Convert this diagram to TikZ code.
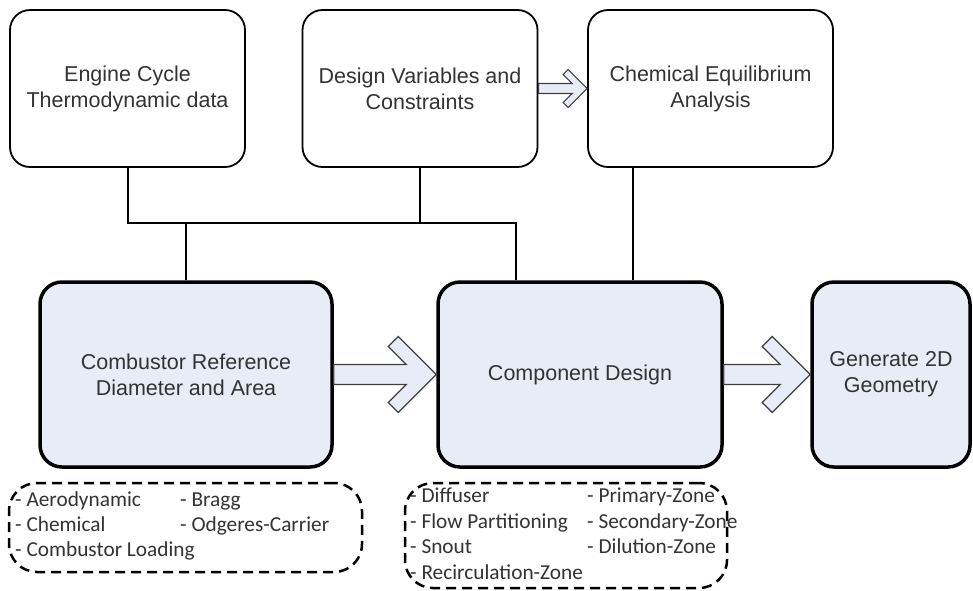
\documentclass[tikz,border=0pt]{standalone}
\usepackage{fontspec}
\setmainfont{Liberation Sans}
\newfontfamily\listfont{Carlito}
\usetikzlibrary{calc}
\definecolor{boxfill}{HTML}{E8ECF6}
\definecolor{txt}{HTML}{333333}
\definecolor{arrgray}{HTML}{404040}
\tikzset{
  topbox/.style={draw=black, line width=1.8pt, rounded corners=20pt, fill=white, align=center,
    text=txt, font=\fontsize{21.5}{26}\selectfont, minimum height=157pt, inner sep=0pt},
  botbox/.style={draw=black, line width=3.5pt, rounded corners=22pt, fill=boxfill, align=center,
    text=txt, font=\fontsize{21.5}{26}\selectfont, minimum height=185pt, inner sep=0pt},
  conn/.style={line width=2pt, draw=black},
  blockarr/.style={draw=arrgray, line width=1.2pt, fill=boxfill, line join=miter},
  dashbox/.style={draw=black, line width=2.5pt, dash pattern=on 10pt off 6pt, rounded corners=28pt, inner sep=0pt},
  item/.style={anchor=west, inner sep=0pt, font=\listfont\fontsize{21.3}{25}\selectfont, text=txt,
    text height=0.7em, text depth=0.2em}
}
\newcommand{\hollowarrow}[3]{%
  \draw[blockarr] ($(#1)+(0,-#3*10)$) -- ($(#2)+(-#3*30,-#3*10)$) -- ($(#2)+(-#3*48,-#3*28)$)
   -- ($(#2)+(-#3*38,-#3*38)$) -- (#2) -- ($(#2)+(-#3*38,#3*38)$) -- ($(#2)+(-#3*48,#3*28)$)
   -- ($(#2)+(-#3*30,#3*10)$) -- ($(#1)+(0,#3*10)$) -- cycle;}
\begin{document}
\begin{tikzpicture}[x=1pt,y=-1pt]
\useasboundingbox[fill=white] (0,0) rectangle (973,590);

% top boxes
\node[topbox, minimum width=235pt] (engine) at (127.5,88.5) {Engine Cycle\\Thermodynamic data};
\node[topbox, minimum width=235pt] (design) at (420,88.5) {Design Variables and\\Constraints};
\node[topbox, minimum width=245pt] (chem) at (710.5,88.5) {Chemical Equilibrium\\Analysis};

% bottom boxes
\node[botbox, minimum width=292pt] (comb) at (186,374.5) {Combustor Reference\\Diameter and Area};
\node[botbox, minimum width=284pt] (comp) at (580,374.5) {Component Design};
\node[botbox, minimum width=158pt] (gen) at (891,374.5) {Generate 2D\\Geometry};

% connectors
\coordinate (busR) at (516,223);
\coordinate (chemx) at (633,0);
\draw[conn] (engine.south) |- (busR) -- (busR |- comp.north);
\draw[conn] (design.south) -- (design.south |- busR);
\draw[conn] (comb.north) -- (comb.north |- busR);
\draw[conn] (chemx |- chem.south) -- (chemx |- comp.north);

% block arrows
\hollowarrow{design.east}{chem.west}{0.5}
\hollowarrow{comb.east}{comp.west}{1}
\hollowarrow{comp.east}{gen.west}{1}

% dashed lists
\node[dashbox, minimum width=353pt, minimum height=89pt] (list1) at (185.5,527.5) {};
\node[item] (a1) at (15,504) {- Aerodynamic};
\node[item] (a2) at (15,529) {- Chemical};
\node[item] (a3) at (15,554) {- Combustor Loading};
\node[item] (a4) at (180,504) {- Bragg};
\node[item] (a5) at (180,529) {- Odgeres-Carrier};

\node[dashbox, minimum width=322pt, minimum height=105pt] (list2) at (566,535.5) {};
\node[item] (b1) at (410,500) {- Diffuser};
\node[item] (b2) at (410,525.5) {- Flow Partitioning};
\node[item] (b3) at (410,551) {- Snout};
\node[item] (b4) at (410,577) {- Recirculation-Zone};
\node[item] (b5) at (587,500) {- Primary-Zone};
\node[item] (b6) at (587,525.5) {- Secondary-Zone};
\node[item] (b7) at (587,551) {- Dilution-Zone};
\end{tikzpicture}
\end{document}
